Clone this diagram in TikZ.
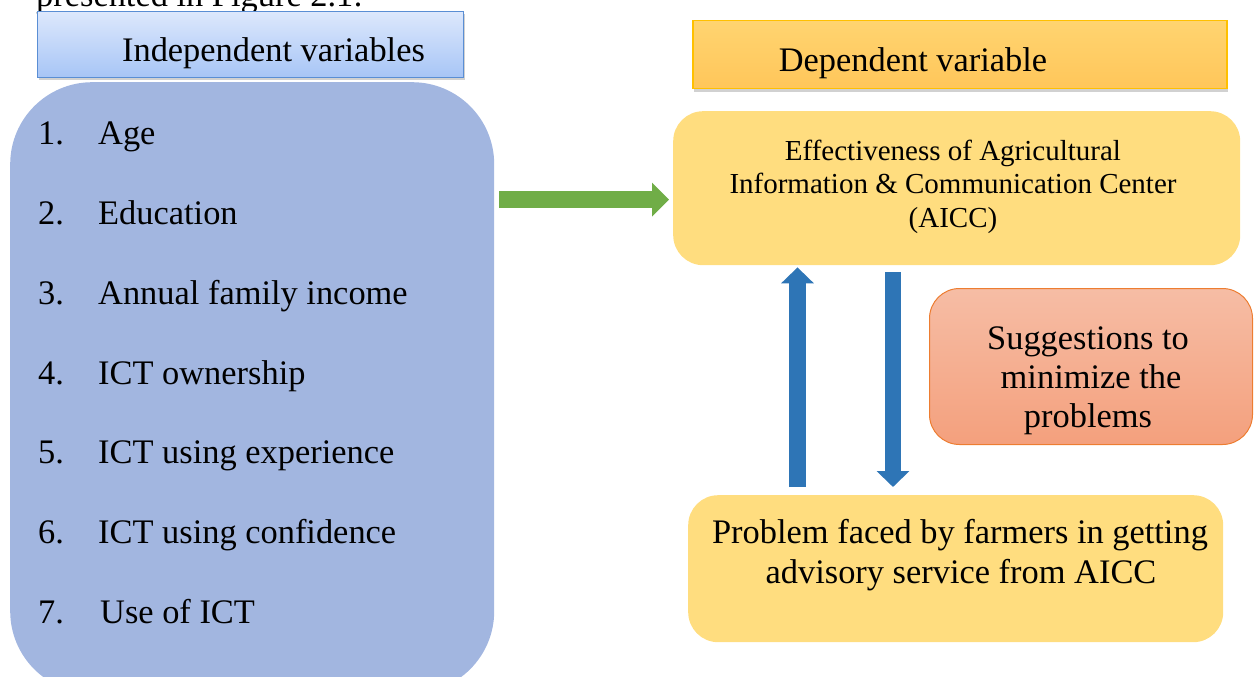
\documentclass[tikz,border=0pt]{standalone}
\usepackage{fontspec}
\setmainfont{Liberation Serif}
\usetikzlibrary{shadows,arrows.meta,calc}
\definecolor{listblue}{HTML}{A2B6E0}
\definecolor{hdrtop}{HTML}{DDE8FC}
\definecolor{hdrbot}{HTML}{A7C5F6}
\definecolor{hdrborder}{HTML}{5A8ED4}
\definecolor{deptop}{HTML}{FFD470}
\definecolor{depbot}{HTML}{FFC65A}
\definecolor{depborder}{HTML}{FFC000}
\definecolor{paleyellow}{HTML}{FFDD7F}
\definecolor{sugtop}{HTML}{F6BDA5}
\definecolor{sugbot}{HTML}{F4A07D}
\definecolor{sugborder}{HTML}{ED7D31}
\definecolor{arrgreen}{HTML}{70AD47}
\definecolor{arrblue}{HTML}{2E75B6}
\begin{document}
\begin{tikzpicture}[x=1pt,y=-1pt,
  big/.style={font=\fontsize{34.4}{40}\selectfont, inner sep=0pt},
  small/.style={font=\fontsize{29}{34}\selectfont, inner sep=0pt},
  item/.style={big, anchor=base west},
  boxshadow/.style={drop shadow={shadow xshift=1pt, shadow yshift=-3pt, opacity=0.18, fill=black}},
  greenarr/.style={draw=arrgreen, line width=17pt, -{Triangle[length=17pt,width=33pt]}},
  bluearr/.style={draw=arrblue, line width=16.5pt, -{Triangle[length=16pt,width=32pt]}}
]
\useasboundingbox (0,0) rectangle (1259,677);
\begin{scope}
\clip (0,0) rectangle (1259,677);
% cut-off line of preceding text
\node[big, anchor=base west] (prev) at (36,7) {presented in Figure 2.1:};

% left list box
\node[fill=listblue, rounded corners=82pt, minimum width=484pt, minimum height=611pt,
      anchor=north west, inner sep=0pt] (ivbox) at (10,82) {};
\node[item] (i1) at (38,144) {\makebox[60pt][l]{1.}Age};
\node[item] (i2) at (38,224) {\makebox[60pt][l]{2.}Education};
\node[item] (i3) at (38,304) {\makebox[60pt][l]{3.}Annual family income};
\node[item] (i4) at (38,384) {\makebox[60pt][l]{4.}ICT ownership};
\node[item] (i5) at (38,463) {\makebox[60pt][l]{5.}ICT using experience};
\node[item] (i6) at (38,543) {\makebox[60pt][l]{6.}ICT using confidence};
\node[item] (i7) at (38,623) {\makebox[62pt][l]{7.}Use of ICT};

% header: independent
\node[boxshadow, top color=hdrtop, bottom color=hdrbot, draw=hdrborder, line width=1pt,
      minimum width=426pt, minimum height=66pt, anchor=north west, inner sep=0pt] (ivhdr) at (37,11) {};
\node[big, anchor=base] (ivhdrtxt) at (273.5,62) {Independent variables};

% header: dependent
\node[boxshadow, top color=deptop, bottom color=depbot, draw=depborder, line width=1.5pt,
      minimum width=534pt, minimum height=68pt, anchor=north west, inner sep=0pt] (dvhdr) at (692,20) {};
\node[big, anchor=base] (dvhdrtxt) at (913,72) {Dependent variable};

% effectiveness box
\node[fill=paleyellow, rounded corners=30pt, minimum width=567pt, minimum height=154pt,
      anchor=north west, inner sep=0pt] (eff) at (673,111) {};
\node[small, anchor=base] (eff1) at (953,160.5) {Effectiveness of Agricultural};
\node[small, anchor=base] (eff2) at (953,193.5) {Information \& Communication Center};
\node[small, anchor=base] (eff3) at (953,227.5) {(AICC)};

% suggestions box
\node[top color=sugtop, bottom color=sugbot, draw=sugborder, line width=1pt, rounded corners=30pt,
      minimum width=323pt, minimum height=156pt, anchor=north west, inner sep=0pt] (sug) at (929,288) {};
\node[big, anchor=base] (sug1) at (1088,349) {Suggestions to};
\node[big, anchor=base] (sug2) at (1091,388.5) {minimize the};
\node[big, anchor=base] (sug3) at (1088,427.5) {problems};

% problem box
\node[fill=paleyellow, rounded corners=30pt, minimum width=535pt, minimum height=147pt,
      anchor=north west, inner sep=0pt] (prob) at (688,495) {};
\node[big, anchor=base] (prob1) at (960,543.5) {Problem faced by farmers in getting};
\node[big, anchor=base] (prob2) at (961,583) {advisory service from AICC};

% arrows
\draw[greenarr] ($(ivbox.east |- eff.west)+(5,11.5)$) -- ($(eff.west)+(-4,11.5)$);
\draw[bluearr] ($(prob.north west)+(109.5,-8)$) -- ($(eff.south west)+(124.5,2)$);
\draw[bluearr] ($(eff.south west)+(220,7)$) -- ($(prob.north west)+(205,-8)$);
\end{scope}
\end{tikzpicture}
\end{document}
